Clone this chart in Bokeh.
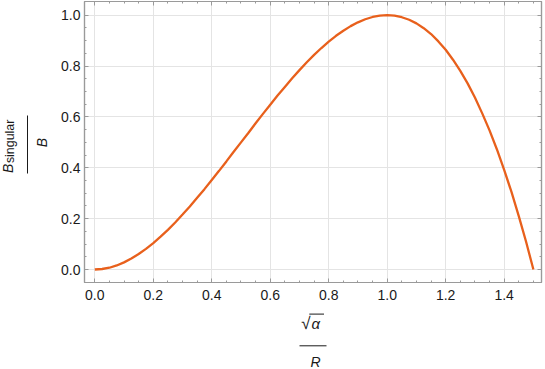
from math import pi
import numpy as np
from bokeh.plotting import figure
from bokeh.layouts import row, column
from bokeh.models import Range1d, LinearAxis, FixedTicker, Grid, ColumnDataSource
from bokeh.core.properties import value
from bokeh.embed import file_html
from bokeh.resources import INLINE

# ---- data ----
x_vals = [0.0, 0.025, 0.05, 0.075, 0.1, 0.125, 0.15, 0.175, 0.2, 0.225, 0.25, 0.275, 0.3, 0.325,
          0.35, 0.375, 0.4, 0.425, 0.45, 0.475, 0.5, 0.525, 0.55, 0.575, 0.6, 0.625, 0.65, 0.675,
          0.7, 0.725, 0.75, 0.775, 0.8, 0.825, 0.85, 0.875, 0.9, 0.925, 0.95, 0.975, 1.0, 1.025,
          1.05, 1.075, 1.1, 1.125, 1.15, 1.175, 1.2, 1.225, 1.25, 1.275, 1.3, 1.325, 1.35, 1.375,
          1.4, 1.425, 1.45, 1.475, 1.5]
y_vals = [0.0, 0.002, 0.007, 0.016, 0.028, 0.043, 0.061, 0.081, 0.104, 0.129, 0.156, 0.185, 0.216,
          0.248, 0.282, 0.316, 0.352, 0.388, 0.425, 0.463, 0.5, 0.537, 0.575, 0.612, 0.648, 0.684,
          0.718, 0.752, 0.784, 0.815, 0.844, 0.871, 0.896, 0.919, 0.939, 0.957, 0.972, 0.984,
          0.993, 0.998, 1.0, 0.998, 0.992, 0.982, 0.968, 0.949, 0.926, 0.897, 0.864, 0.825, 0.781,
          0.732, 0.676, 0.614, 0.547, 0.473, 0.392, 0.305, 0.210, 0.109, 0.0]

x_ticks = [0.0, 0.2, 0.4, 0.6, 0.8, 1.0, 1.2, 1.4]
x_tick_labels = ["0.0", "0.2", "0.4", "0.6", "0.8", "1.0", "1.2", "1.4"]
y_ticks = [0.0, 0.2, 0.4, 0.6, 0.8, 1.0]
y_tick_labels = ["0.0", "0.2", "0.4", "0.6", "0.8", "1.0"]
x_minor = [round(v, 2) for v in np.arange(0.0, 1.55, 0.05)]
y_minor = [round(v, 2) for v in np.arange(0.0, 1.05, 0.05)]

FONT = "Liberation Sans"
FRAME = "#9a9a9a"
TXT = "#1a1a1a"
CURVE = "#E8601C"

# ---------------- main plot ----------------
p = figure(width=489, height=310,
           x_range=Range1d(-0.0352, 1.5277), y_range=Range1d(-0.0511, 1.0539),
           output_backend="svg", toolbar_location=None,
           x_axis_type=None, y_axis_type=None,
           min_border_left=28, min_border_right=4, min_border_top=1, min_border_bottom=28)
p.outline_line_color = FRAME
p.outline_line_width = 1.2
p.background_fill_color = "white"
p.border_fill_color = "white"

xt = FixedTicker(ticks=x_ticks, minor_ticks=x_minor)
yt = FixedTicker(ticks=y_ticks, minor_ticks=y_minor)

p.add_layout(Grid(dimension=0, ticker=xt, grid_line_color="#e4e4e4", grid_line_width=1))
p.add_layout(Grid(dimension=1, ticker=yt, grid_line_color="#e4e4e4", grid_line_width=1))


def style_axis(ax, show):
    ax.axis_line_color = FRAME
    ax.axis_line_width = 1.2
    ax.major_tick_line_color = FRAME
    ax.minor_tick_line_color = FRAME
    ax.major_tick_in = 4
    ax.major_tick_out = 0
    ax.minor_tick_in = 2
    ax.minor_tick_out = 0
    if show:
        ax.major_label_text_font = FONT
        ax.major_label_text_font_size = "14px"
        ax.major_label_text_color = TXT
    else:
        ax.major_label_text_font_size = "0px"
        ax.major_label_text_color = None
        ax.major_label_standoff = 0


bx = LinearAxis(ticker=xt, major_label_overrides=dict(zip(x_ticks, x_tick_labels)))
style_axis(bx, True)
bx.major_label_standoff = 7
p.add_layout(bx, "below")

ly = LinearAxis(ticker=yt, major_label_overrides=dict(zip(y_ticks, y_tick_labels)))
style_axis(ly, True)
ly.major_label_standoff = 4
p.add_layout(ly, "left")

tx = LinearAxis(ticker=xt)
style_axis(tx, False)
p.add_layout(tx, "above")

ry = LinearAxis(ticker=yt)
style_axis(ry, False)
p.add_layout(ry, "right")

src = ColumnDataSource(data=dict(x=x_vals, y=y_vals))
p.line("x", "y", source=src, line_color=CURVE, line_width=2.3)


# ---------------- label panels (pixel coordinate frames) ----------------
def panel(w, h, xr, yr, bl=0, br=0, bt=0, bb=0):
    f = figure(width=w, height=h, x_range=Range1d(*xr), y_range=Range1d(*yr),
               output_backend="svg", toolbar_location=None,
               x_axis_type=None, y_axis_type=None,
               min_border_left=bl, min_border_right=br, min_border_top=bt, min_border_bottom=bb)
    f.outline_line_color = None
    f.background_fill_color = "white"
    f.border_fill_color = "white"
    f.grid.visible = False
    return f


BASE = 0.4  # baseline correction (fraction of font size)


def txt(f, t, x, y, size, style="normal", align="left", angle=0.0):
    s = float(size.replace("px", ""))
    if angle:
        x -= BASE * s
    else:
        y += BASE * s
    f.text(x=[x], y=[y], text=[t], angle=angle, text_font=value(FONT),
           text_font_size=value(size), text_font_style=style, text_color=TXT,
           text_align=align, text_baseline="alphabetic")


# left panel: image x 0..56, y 0..310 (data y = 310 - image y); its frame is aligned
# with the main plot's frame (image y 1..282)
LH = 310
left = panel(56, LH, (0, 56), (LH - 282, LH - 1), bt=1, bb=28)
txt(left, "B", 13.3, LH - 172.5, "14px", "italic", "left", pi / 2)
txt(left, "singular", 14.3, LH - 162.6, "12.4px", "normal", "left", pi / 2)
left.segment(x0=[27], y0=[LH - 115], x1=[27], y1=[LH - 173], line_color=TXT, line_width=1)
txt(left, "B", 47, LH - 142, "14px", "italic", "center", pi / 2)

# bottom panel: image x 0..545, y 310..369 (data y = 369 - image y)
BH = 59
bottom = panel(545, BH, (0, 541), (0, BH), br=4)
txt(bottom, "√", 300.8, 369 - 329.3, "17px", "normal", "left")
txt(bottom, "α", 311, 369 - 329, "15px", "italic", "left")
bottom.segment(x0=[308.8], y0=[369 - 313.6], x1=[323.5], y1=[369 - 313.6], line_color=TXT, line_width=1)
bottom.segment(x0=[299], y0=[369 - 345.3], x1=[326], y1=[369 - 345.3], line_color=TXT, line_width=1)
txt(bottom, "R", 315, 369 - 367.5, "14px", "italic", "center")

layout = column(row(left, p, spacing=0), bottom, spacing=0)

open("out.html", "w").write(file_html(layout, INLINE))
